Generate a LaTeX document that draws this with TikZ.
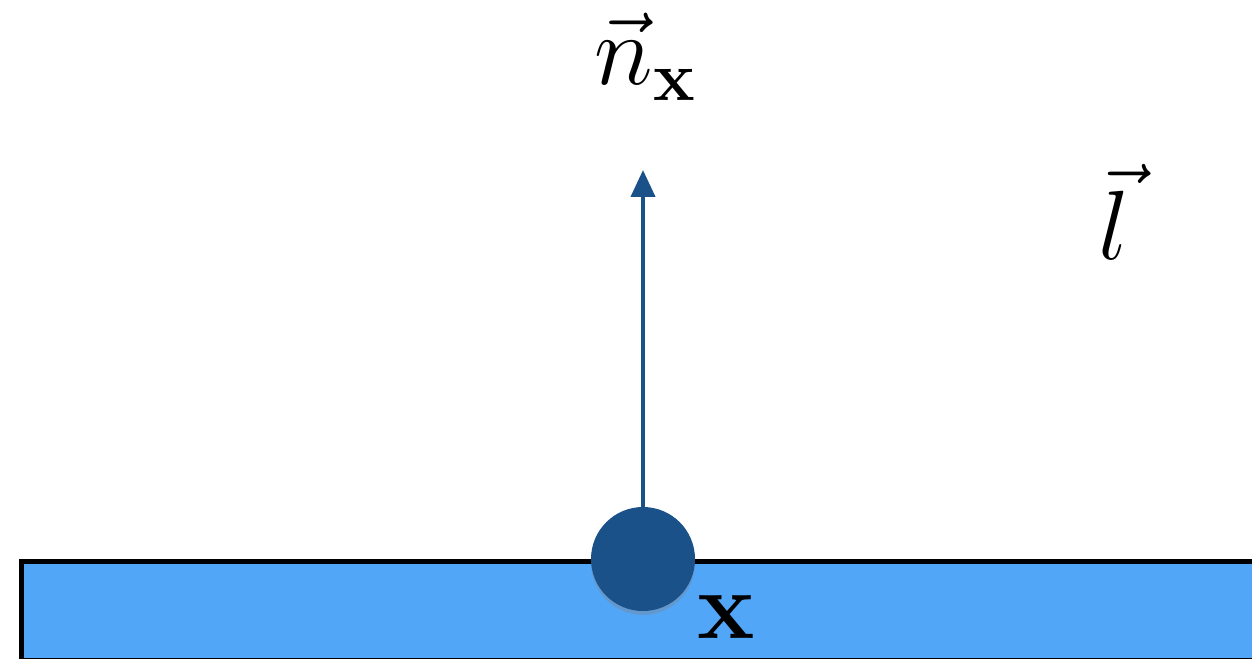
\RequirePackage{fix-cm}
\documentclass[tikz,border=0pt]{standalone}
\usetikzlibrary{arrows.meta, shadows}
\definecolor{azulclaro}{HTML}{52A6F8}
\definecolor{azulescuro}{HTML}{1A5189}

\begin{document}
\begin{tikzpicture}[
        superficie/.style={draw=black, fill=azulclaro, line width=3pt},
        ponto/.style={circle, fill=azulescuro, minimum size=20.8mm, inner sep=0pt,
            drop shadow={opacity=0.35, shadow xshift=0mm, shadow yshift=-0.8mm}},
        seta/.style={-{Triangle[length=5.4mm, width=4.8mm]}, draw=azulescuro, line width=2.3pt},
        rotulo/.style={inner sep=0pt, anchor=base, font=\fontsize{#1}{#1}\selectfont},
        rotulo/.default=56
    ]
        \useasboundingbox (0,0) rectangle (25.04,13.16);
        \clip (0,0) rectangle (25.04,13.16);

        % superficie
        \node[superficie, rectangle, minimum width=30cm, minimum height=1.98cm, anchor=north west, inner sep=0pt] (sup) at (0.37,1.98) {};

        \node[ponto] (x) at (12.86,1.98) {};
        \coordinate (topo) at (12.86,9.76);

        \node[rotulo=57] (normal) at (12.9,11.46) {$\vec{n}_{\mathbf{x}}$};
        \node[rotulo=56] (luz) at (22.28,7.96) {$\vec{l}$};
        \node[rotulo=55] (xlab) at (14.52,0.40) {$\mathbf{x}$};

        \draw[seta] (x.north) -- (topo);
    \end{tikzpicture}
\end{document}
